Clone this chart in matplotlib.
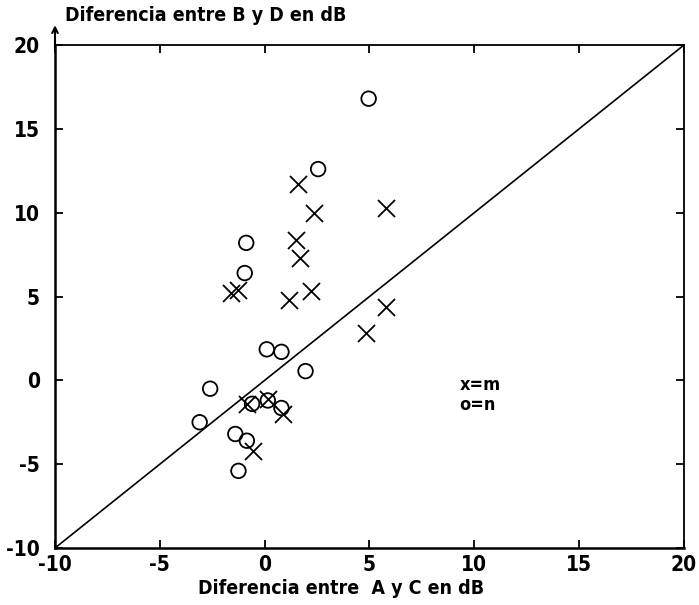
import matplotlib.pyplot as plt
import numpy as np

# datos
m_x = [1.57, 2.34, 5.77, 1.48, 1.67, -1.62, -1.29, 1.14, 2.19, 5.77, 4.82,
       -0.86, 0.15, 0.86, -0.57]
m_y = [11.7, 10.0, 10.25, 8.4, 7.3, 5.2, 5.4, 4.8, 5.3, 4.4, 2.8,
       -1.4, -1.1, -2.0, -4.2]

n_x = [4.96, 2.55, -0.88, -0.95, 0.1, 0.8, 1.95, -2.6, -3.1, -0.6, 0.15,
       0.8, -1.4, -0.85, -1.25]
n_y = [16.8, 12.6, 8.2, 6.4, 1.85, 1.7, 0.55, -0.5, -2.5, -1.4, -1.2,
       -1.65, -3.2, -3.6, -5.4]

ticks = [-10, -5, 0, 5, 10, 15, 20]

plt.rcParams['font.family'] = ['DejaVu Sans']
plt.rcParams['font.stretch'] = 'condensed'
plt.rcParams['font.weight'] = 'bold'
plt.rcParams['axes.unicode_minus'] = False

fig = plt.figure(figsize=(6.99, 6.05), dpi=100)
ax = fig.add_axes([0.0787, 0.0942, 0.8998, 0.8314])

ax.plot([-10, 20], [-10, 20], color='k', lw=1.2)
ax.scatter(m_x, m_y, marker='x', s=150, color='k', linewidths=1.3, zorder=3)
ax.scatter(n_x, n_y, marker='o', s=110, facecolors='none', edgecolors='k',
           linewidths=1.3, zorder=3)

ax.text(9.3, -0.25, 'x=m', fontsize=13, fontweight='bold', va='center')
ax.text(9.3, -1.5, 'o=n', fontsize=13, fontweight='bold', va='center')

ax.set_xlim(-10, 20)
ax.set_ylim(-10, 20)
ax.set_xticks(ticks)
ax.set_yticks(ticks)
ax.tick_params(direction='in', length=6, width=1.3, top=True, right=True,
               labelsize=15)
ax.tick_params(axis='x', pad=5)
ax.tick_params(axis='y', pad=11)
for lab in ax.get_xticklabels() + ax.get_yticklabels():
    lab.set_fontweight('bold')
    lab.set_fontstretch('condensed')
for s in ax.spines.values():
    s.set_linewidth(1.3)
ax.spines['left'].set_linewidth(1.8)
ax.spines['bottom'].set_linewidth(1.8)

fig.text(0.488, 0.028, 'Diferencia entre  A y C en dB', fontsize=14,
         fontweight='bold', fontstretch='condensed', va='center', ha='center')

# flecha del eje y
ax.annotate('', xy=(0, 1.045), xytext=(0, 0.99), xycoords='axes fraction',
            arrowprops=dict(arrowstyle='->', lw=1.5, color='k'),
            annotation_clip=False)
fig.text(0.093, 0.975, 'Diferencia entre B y D en dB', fontsize=14,
         fontweight='bold', fontstretch='condensed', va='center', ha='left')

fig.savefig('out.png', dpi=100)
